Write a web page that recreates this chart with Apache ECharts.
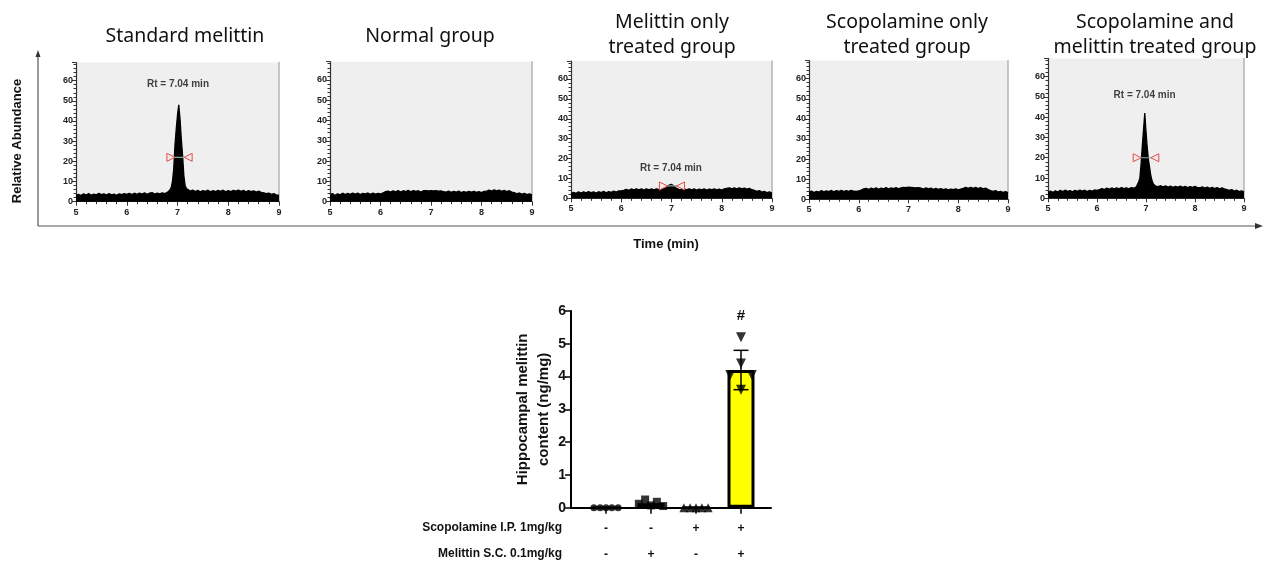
<!DOCTYPE html>
<html><head><meta charset="utf-8">
<script src="https://cdn.jsdelivr.net/npm/echarts@6/dist/echarts.min.js"></script>
<style>html,body{margin:0;padding:0;background:#fff}#c{width:1264px;height:562px}</style>
</head><body><div id="c"></div>
<script>
// ---------- DATA ----------
const times = [5.00,5.05,5.10,5.15,5.20,5.25,5.30,5.35,5.40,5.45,5.50,5.55,5.60,5.65,5.70,5.75,5.80,5.85,5.90,5.95,6.00,
  6.05,6.10,6.15,6.20,6.25,6.30,6.35,6.40,6.45,6.50,6.55,6.60,6.65,6.70,6.75,6.80,6.85,
  6.875,6.900,6.925,6.950,6.975,7.000,7.025,7.050,7.075,7.100,7.125,7.150,7.175,7.200,
  7.25,7.30,7.35,7.40,7.45,7.50,7.55,7.60,7.65,7.70,7.75,7.80,7.85,7.90,7.95,8.00,8.05,
  8.10,8.15,8.20,8.25,8.30,8.35,8.40,8.45,8.50,8.55,8.60,8.65,8.70,8.75,8.80,8.85,8.90,8.95,9.00];

const standardMelittin = [3.2,3.7,3.0,3.9,3.3,4.0,3.2,3.8,3.4,4.1,3.5,3.9,3.3,4.0,3.4,3.8,3.2,3.9,3.5,4.0,3.6,
  4.1,3.5,4.2,3.7,4.3,3.8,4.4,3.7,4.2,4.5,3.8,4.3,3.9,4.4,4.0,4.6,5.8,
  7,10,16,28,36,43,48,41,31,23,13,8,6.5,5.8,
  5.3,5.8,5.0,5.6,4.9,5.5,5.1,5.7,4.9,5.5,5.0,5.6,5.1,5.7,4.9,5.5,5.0,
  5.6,5.2,5.8,5.1,5.6,4.9,5.5,5.0,5.4,4.8,5.2,4.6,4.4,4.0,4.3,3.6,4.0,3.3,3.2];

const normalGroup = [3.4,4.0,3.1,3.9,3.4,4.2,3.5,4.1,3.6,4.3,3.7,4.2,3.5,4.1,3.8,4.3,3.6,4.2,3.7,4.1,3.8,
  4.3,5.0,5.2,4.7,5.4,4.9,5.5,4.8,5.4,5.0,5.6,4.9,5.5,5.1,5.4,4.8,5.4,
  5.0,5.5,4.8,5.3,4.9,5.4,4.8,5.3,4.9,5.4,4.7,5.2,4.8,5.3,
  4.9,4.7,5.2,4.6,5.1,4.7,5.2,4.5,5.0,4.6,5.1,4.7,5.1,4.6,5.0,4.5,5.1,
  5.2,5.7,5.2,5.8,5.3,5.7,5.1,5.6,5.0,5.4,4.7,4.5,3.9,4.3,3.7,4.1,3.5,3.9,3.4];

const melittinOnly = [2.4,3.0,2.5,3.2,2.6,3.3,2.7,3.4,2.8,3.2,2.6,3.3,2.9,3.5,2.8,3.4,3.0,3.6,3.1,3.7,3.7,
  4.0,4.5,4.0,4.7,4.2,4.8,4.3,4.7,4.1,4.8,4.3,4.7,4.2,4.8,4.4,4.7,4.8,
  5.0,5.4,5.9,6.6,7.4,7.0,6.5,6.0,5.5,5.0,4.7,4.5,4.7,4.4,
  4.7,4.2,4.8,4.3,4.7,4.1,4.6,4.2,4.7,4.1,4.6,4.3,4.7,4.2,4.6,4.1,4.7,
  5.0,5.3,4.7,5.2,4.8,5.3,4.7,5.1,4.6,5.0,4.3,4.0,3.5,3.9,3.1,3.5,2.8,3.2,2.6];

const scopolamineOnly = [3.5,4.1,3.3,4.0,3.6,4.3,3.7,4.2,3.8,4.4,3.7,4.3,3.9,4.5,3.8,4.3,3.9,4.4,4.0,3.9,4.2,
  4.6,5.2,5.4,4.9,5.6,5.1,5.7,5.0,5.6,5.2,5.8,5.1,5.7,5.3,5.8,5.2,5.7,
  5.3,5.9,5.2,5.8,5.4,6.0,5.3,5.9,5.4,5.8,5.2,5.7,5.3,5.8,
  5.6,5.1,5.7,5.2,5.6,5.0,5.4,4.9,5.3,4.8,5.2,4.7,5.1,4.8,5.2,4.7,5.1,
  5.4,5.9,5.4,6.0,5.5,5.9,5.3,5.8,5.2,5.6,4.8,4.3,3.9,4.3,3.6,4.0,3.4,3.8,3.3];

const scopolamineMelittin = [2.9,3.5,2.9,3.7,3.1,3.9,3.3,4.0,3.4,3.8,3.2,3.9,3.4,4.1,3.5,4.0,3.3,3.9,3.5,4.1,3.9,
  4.3,4.8,4.3,5.0,4.5,5.1,4.6,5.2,4.7,5.3,4.8,5.2,4.7,5.3,5.0,5.5,8,
  10,17,26,34,42,33,25,19,15,11,8.5,7,6.5,6.0,
  5.8,6.2,5.6,6.1,5.5,6.0,5.4,5.9,5.5,6.0,5.4,5.9,5.3,5.8,5.4,5.9,5.3,
  5.2,5.6,5.0,5.5,4.9,5.4,4.8,5.3,4.7,5.1,4.6,4.3,3.9,4.3,3.6,4.0,3.3,3.7,3.2];

const panelTitles = ['Standard melittin','Normal group','Melittin only\ntreated group','Scopolamine only\ntreated group','Scopolamine and\nmelittin treated group'];
const rtText = 'Rt = 7.04 min';
// half-height markers [start, end, height] and Rt label anchor [time, abundance]
const halfWidth = [[6.87,7.21,22],null,[6.84,7.18,6.2],null,[6.82,7.18,20]];
const rtLabelAt = [[7.01,58],null,[6.99,15],null,[6.97,51]];

// bar chart
const barGroups = [1,2,3,4];
const barMeans = [0.0,0.14,0.0,4.2];
const barSD = [0,0.08,0,0.6];
const pointsG1 = [0,0,0,0,0];
const pointsG2 = [0.12,0.25,0.07,0.18,0.05];
const pointsG3 = [0,0,0,0,0];
const pointsG4 = [5.2,4.4,4.05,4.05,3.6];
const sigMarks = ['','','','#'];
const scopolamineRow = ['-','-','+','+'];
const melittinRow = ['-','+','-','+'];
const barTicks = [0,1,2,3,4,5,6];

// ---------- LAYOUT ----------
const series5 = [standardMelittin, normalGroup, melittinOnly, scopolamineOnly, scopolamineMelittin];
const panels = [
  {l:76,r:279,t:62.5,b:201.7,cx:185},
  {l:330,r:532,t:61.7,b:201.7,cx:430},
  {l:571,r:772,t:61.1,b:198.3,cx:672},
  {l:809,r:1008,t:60.6,b:199.3,cx:907},
  {l:1048,r:1244,t:58.4,b:198.3,cx:1155}
];
const grid = [], xAxis = [], yAxis = [], series = [], graphic = [];
const tickFont = {fontFamily:'Liberation Sans', fontWeight:'bold', fontSize:9, color:'#222'};

panels.forEach((p, i) => {
  grid.push({left:p.l, top:p.t, width:p.r-p.l, height:p.b-p.t, show:true, backgroundColor:'#efefef', borderWidth:0, outerBoundsMode:'none', containLabel:false});
  xAxis.push({type:'value', gridIndex:i, min:5, max:9, interval:1,
    axisLine:{lineStyle:{color:'#333', width:1.2}},
    axisTick:{show:true, length:4, lineStyle:{color:'#333'}},
    minorTick:{show:true, splitNumber:5, length:2.5, lineStyle:{color:'#333'}},
    splitLine:{show:false},
    axisLabel:Object.assign({margin:6}, tickFont)});
  yAxis.push({type:'value', gridIndex:i, min:0, max:69, interval:10,
    axisLine:{show:true, lineStyle:{color:'#333', width:1.2}},
    axisTick:{show:true, length:4, lineStyle:{color:'#333'}},
    minorTick:{show:true, splitNumber:5, length:2.5, lineStyle:{color:'#333'}},
    splitLine:{show:false},
    axisLabel:Object.assign({margin:3, showMaxLabel:false}, tickFont)});
  // right gray border
  yAxis.push({type:'value', gridIndex:i, position:'right', min:0, max:69,
    axisLine:{show:true, lineStyle:{color:'#b5b5b5', width:1.5}},
    axisTick:{show:false}, axisLabel:{show:false}, splitLine:{show:false}});
  const yi = yAxis.length - 2;
  series.push({type:'line', xAxisIndex:i, yAxisIndex:yi, showSymbol:false, silent:true,
    data: times.map((t,k) => [t, series5[i][k]]),
    lineStyle:{color:'#000', width:1.3}, areaStyle:{color:'#000', opacity:1}, z:2});
  if (halfWidth[i]) {
    const h = halfWidth[i];
    series.push({type:'line', xAxisIndex:i, yAxisIndex:yi, silent:true,
      data:[{value:[h[0],h[2]], symbolRotate:-90},{value:[h[1],h[2]], symbolRotate:90}],
      symbol:'triangle', symbolSize:[8,8],
      lineStyle:{color:'#86a9a2', width:1.2},
      itemStyle:{color:'#fbe6e6', borderColor:'#d9534f', borderWidth:1}, z:5});
  }
  if (rtLabelAt[i]) {
    series.push({type:'scatter', xAxisIndex:i, yAxisIndex:yi, symbolSize:0, silent:true,
      data:[rtLabelAt[i]],
      label:{show:true, position:'inside', formatter:rtText, fontFamily:'Liberation Sans', fontWeight:'bold', fontSize:10, color:'#111'}, z:6});
  }
  graphic.push({type:'text', x:p.cx, y:panelTitles[i].includes('\n') ? 34.5 : 36,
    style:{text:panelTitles[i], fontFamily:'Noto Sans', fontSize:19.5, fill:'#111', align:'center', verticalAlign:'middle', lineHeight:25}});
});

// big frame arrows
graphic.push({type:'line', shape:{x1:38,y1:226,x2:38,y2:56}, style:{stroke:'#555', lineWidth:1.2}});
graphic.push({type:'polygon', shape:{points:[[38,50],[35.5,57],[40.5,57]]}, style:{fill:'#333'}});
graphic.push({type:'line', shape:{x1:38,y1:226,x2:1256,y2:226}, style:{stroke:'#555', lineWidth:1.2}});
graphic.push({type:'polygon', shape:{points:[[1263,226],[1255,223],[1255,229]]}, style:{fill:'#333'}});
graphic.push({type:'text', x:17, y:141, rotation:Math.PI/2,
  style:{text:'Relative Abundance', fontFamily:'Liberation Sans', fontWeight:'bold', fontSize:13, fill:'#111', align:'center', verticalAlign:'middle'}});
graphic.push({type:'text', x:666, y:244,
  style:{text:'Time (min)', fontFamily:'Liberation Sans', fontWeight:'bold', fontSize:13, fill:'#111', align:'center', verticalAlign:'middle'}});
// bar chart row labels
graphic.push({type:'text', x:562, y:528,
  style:{text:'Scopolamine I.P. 1mg/kg', fontFamily:'Liberation Sans', fontWeight:'bold', fontSize:12, fill:'#111', align:'right', verticalAlign:'middle'}});
graphic.push({type:'text', x:562, y:554,
  style:{text:'Melittin S.C. 0.1mg/kg', fontFamily:'Liberation Sans', fontWeight:'bold', fontSize:12, fill:'#111', align:'right', verticalAlign:'middle'}});

// ---------- BAR CHART ----------
const bi = grid.length;
grid.push({left:571, top:311, width:200, height:196.7, outerBoundsMode:'none', containLabel:false});
xAxis.push({type:'value', gridIndex:bi, min:0.2222, max:4.6667,
  axisLine:{lineStyle:{color:'#000', width:2}},
  axisTick:{show:true, customValues:barGroups, length:6, lineStyle:{color:'#000', width:1.5}},
  axisLabel:{customValues:barGroups, margin:8, formatter:(v) => scopolamineRow[Math.round(v)-1] + '\n' + melittinRow[Math.round(v)-1],
    fontFamily:'Liberation Sans', fontWeight:'bold', fontSize:12, lineHeight:26, color:'#111'},
  splitLine:{show:false}});
const byi = yAxis.length;
yAxis.push({type:'value', gridIndex:bi, min:barTicks[0], max:barTicks[barTicks.length-1], interval:1,
  name:'Hippocampal melittin\ncontent (ng/mg)', nameLocation:'middle', nameGap:16, nameRotate:90,
  nameTextStyle:{fontFamily:'Liberation Sans', fontWeight:'bold', fontSize:15, color:'#111', lineHeight:21},
  axisLine:{show:true, lineStyle:{color:'#000', width:2}},
  axisTick:{show:true, length:6, lineStyle:{color:'#000', width:1.5}},
  axisLabel:{fontFamily:'Liberation Sans', fontWeight:'bold', fontSize:14, color:'#111', margin:5},
  splitLine:{show:false}});

series.push({type:'bar', xAxisIndex:bi, yAxisIndex:byi, barWidth:27,
  data: barGroups.map((g,i) => ({value:[g, barMeans[i]], itemStyle:{color: i===3 ? '#ffff00' : '#ffffff'}})),
  itemStyle:{borderColor:'#000', borderWidth:3}, z:2});

series.push({type:'custom', xAxisIndex:bi, yAxisIndex:byi, z:3,
  data: barGroups.map((g,i) => [g, barMeans[i], barSD[i], Math.max(...[pointsG1,pointsG2,pointsG3,pointsG4][i])]),
  renderItem(params, api) {
    const x = api.value(0), m = api.value(1), s = api.value(2), mx = api.value(3);
    const children = [];
    const idx = params.dataIndex;
    if (s > 0.2) {
      const top = api.coord([x, m+s]), bot = api.coord([x, m-s]);
      const st = {stroke:'#000', lineWidth:1.5};
      children.push({type:'line', shape:{x1:top[0],y1:top[1],x2:bot[0],y2:bot[1]}, style:st});
      children.push({type:'line', shape:{x1:top[0]-7.5,y1:top[1],x2:top[0]+7.5,y2:top[1]}, style:st});
      children.push({type:'line', shape:{x1:bot[0]-7.5,y1:bot[1],x2:bot[0]+7.5,y2:bot[1]}, style:st});
    }
    if (sigMarks[idx]) {
      const p = api.coord([x, mx]);
      children.push({type:'text', x:p[0], y:p[1]-21, style:{text:sigMarks[idx], fontFamily:'Liberation Sans', fontWeight:'bold', fontSize:15, fill:'#111', align:'center', verticalAlign:'middle'}});
    }
    return {type:'group', children};
  }});

const jitterSpread = [-0.27,-0.13,0,0.13,0.27];
const jitterG4 = [0,0,-0.24,0.24,0];
const groupSpecs = [
  {vals:pointsG1, sym:'circle', size:7, jit:jitterSpread},
  {vals:pointsG2, sym:'rect', size:8, jit:jitterSpread},
  {vals:pointsG3, sym:'triangle', size:9, jit:jitterSpread},
  {vals:pointsG4, sym:'triangle', size:10, jit:jitterG4, rot:180}
];
groupSpecs.forEach((gs, gi) => {
  series.push({type:'scatter', xAxisIndex:bi, yAxisIndex:byi, symbol:gs.sym, symbolSize:gs.size, symbolRotate:gs.rot || 0,
    itemStyle:{color:'#000'}, z:4, silent:true,
    data: gs.vals.map((v,k) => [barGroups[gi] + gs.jit[k], v])});
});

const chart = echarts.init(document.getElementById('c'), null, {renderer:'canvas'});
chart.setOption({animation:false, backgroundColor:'#fff', grid, xAxis, yAxis, series, graphic});
</script></body></html>
